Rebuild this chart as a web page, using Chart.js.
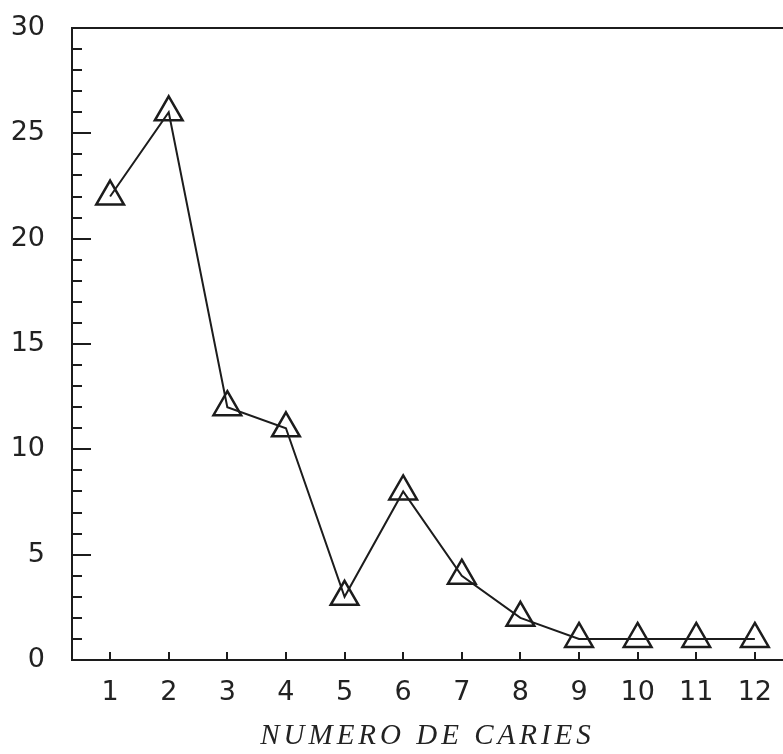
<!DOCTYPE html>
<html>
<head>
<meta charset="utf-8">
<script src="https://cdn.jsdelivr.net/npm/chart.js@4"></script>
<style>
  html, body { margin: 0; padding: 0; background: #fff; overflow: hidden; }
  #wrap { width: 783px; height: 754px; }
</style>
</head>
<body>
<div id="wrap"><canvas id="caries"></canvas></div>
<script>
// number of caries vs. frequency
var categories = [1, 2, 3, 4, 5, 6, 7, 8, 9, 10, 11, 12];
var counts = [22, 26, 12, 11, 3, 8, 4, 2, 1, 1, 1, 1];
var yTicks = [0, 5, 10, 15, 20, 25, 30];
var xTitle = 'NUMERO DE CARIES';

var ink = '#1c1c1c';

// inward tick marks + top frame line
var frame = {
    id: 'frame',
    beforeDraw: function (chart) {
        // wide spacing for the axis title (drawn in the grid layer)
        chart.ctx.letterSpacing = '4px';
    },
    beforeDatasetsDraw: function (chart) {
        chart.ctx.letterSpacing = '0px';
    },
    afterDraw: function (chart) {
        var ctx = chart.ctx;
        var a = chart.chartArea;
        var x = chart.scales.x, y = chart.scales.y;
        ctx.save();
        ctx.strokeStyle = ink;
        ctx.lineWidth = 2;
        ctx.beginPath();
        ctx.moveTo(a.left, a.top);
        ctx.lineTo(a.right, a.top);
        for (var v = 1; v < 30; v++) {
            var py = Math.round(y.getPixelForValue(v));
            var len = v % 5 === 0 ? 19 : 10;
            ctx.moveTo(a.left, py);
            ctx.lineTo(a.left + len, py);
        }
        categories.forEach(function (c) {
            var px = Math.round(x.getPixelForValue(c));
            ctx.moveTo(px, a.bottom);
            ctx.lineTo(px, a.bottom - 8);
        });
        ctx.stroke();
        ctx.restore();
    }
};

new Chart(document.getElementById('caries'), {
    type: 'line',
    data: {
        datasets: [{
            data: categories.map(function (c, i) { return { x: c, y: counts[i] }; }),
            borderColor: ink,
            borderWidth: 2,
            pointStyle: 'triangle',
            pointRadius: 16,
            pointBorderWidth: 2.5,
            pointBorderColor: ink,
            pointBackgroundColor: 'rgba(0,0,0,0)',
            tension: 0
        }]
    },
    options: {
        responsive: true,
        maintainAspectRatio: false,
        animation: false,
        layout: { autoPadding: false, padding: { top: 28, right: 0, left: 0, bottom: 0 } },
        plugins: { legend: { display: false }, tooltip: { enabled: false } },
        scales: {
            x: {
                type: 'linear',
                min: 0.35,
                max: 12.48,
                afterBuildTicks: function (s) {
                    s.ticks = categories.map(function (c) { return { value: c }; });
                },
                afterFit: function (s) {
                    s.height = 94;
                    s.paddingLeft = 0;
                    s.paddingRight = 0;
                },
                grid: { display: false, drawTicks: false },
                border: { display: true, color: ink, width: 2 },
                ticks: {
                    z: 1,
                    padding: 17,
                    color: '#222',
                    font: { family: 'DejaVu Sans', size: 27 },
                    maxRotation: 0
                },
                title: {
                    display: true,
                    text: xTitle,
                    color: '#222',
                    padding: { top: 0, bottom: 0 },
                    font: { family: 'Liberation Serif', style: 'italic', size: 29 }
                }
            },
            y: {
                min: 0,
                max: 30,
                afterBuildTicks: function (s) {
                    s.ticks = yTicks.map(function (v) { return { value: v }; });
                },
                afterFit: function (s) {
                    s.width = 72;
                    s.paddingTop = 0;
                    s.paddingBottom = 0;
                },
                grid: { display: false, drawTicks: false },
                border: { display: true, color: ink, width: 2 },
                ticks: {
                    z: 1,
                    padding: 27,
                    color: '#222',
                    font: { family: 'DejaVu Sans', size: 27 }
                }
            }
        }
    },
    plugins: [frame]
});
</script>
</body>
</html>
